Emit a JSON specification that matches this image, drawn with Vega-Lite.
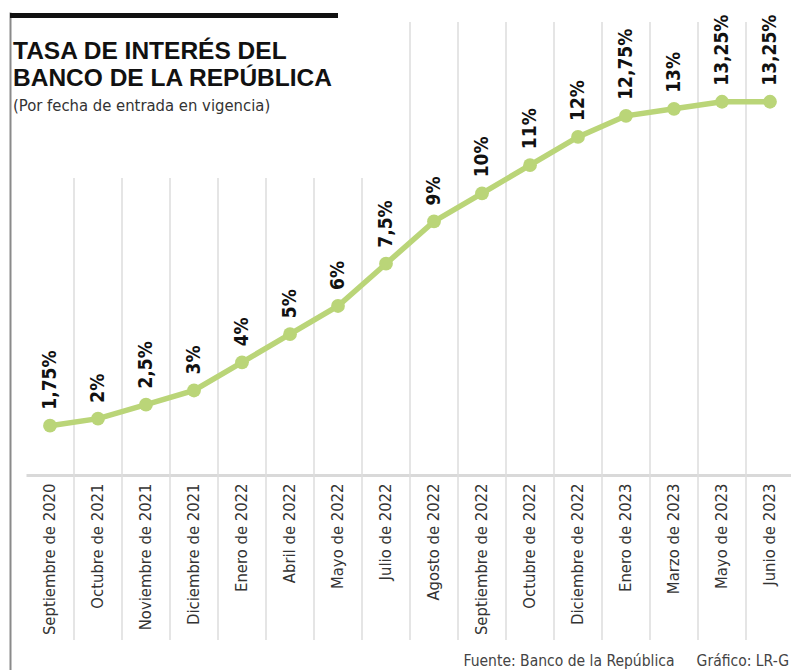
{
  "$schema": "https://vega.github.io/schema/vega-lite/v6.json",
  "width": 768,
  "height": 658,
  "autosize": {"type": "none"},
  "padding": {"left": 26, "top": 12, "right": 0, "bottom": 0},
  "background": "white",
  "config": {"view": {"stroke": null}},
  "title": {
    "text": ["TASA DE INTERÉS DEL", "BANCO DE LA REPÚBLICA"],
    "subtitle": "(Por fecha de entrada en vigencia)",
    "anchor": "start",
    "frame": "group",
    "orient": "top",
    "offset": -103,
    "dx": -13,
    "font": "Liberation Sans",
    "fontSize": 24.5,
    "fontWeight": "bold",
    "lineHeight": 27,
    "color": "#111111",
    "subtitleFont": "DejaVu Sans Condensed",
    "subtitleFontSize": 16.5,
    "subtitleColor": "#333333",
    "subtitlePadding": 6
  },
  "data": {
    "values": [
      {"mes": "Septiembre de 2020", "tasa": 1.75},
      {"mes": "Octubre de 2021", "tasa": 2},
      {"mes": "Noviembre de 2021", "tasa": 2.5},
      {"mes": "Diciembre de 2021", "tasa": 3},
      {"mes": "Enero de 2022", "tasa": 4},
      {"mes": "Abril de 2022", "tasa": 5},
      {"mes": "Mayo de 2022", "tasa": 6},
      {"mes": "Julio de 2022", "tasa": 7.5},
      {"mes": "Agosto de 2022", "tasa": 9},
      {"mes": "Septiembre de 2022", "tasa": 10},
      {"mes": "Octubre de 2022", "tasa": 11},
      {"mes": "Diciembre de 2022", "tasa": 12},
      {"mes": "Enero de 2023", "tasa": 12.75},
      {"mes": "Marzo de 2023", "tasa": 13},
      {"mes": "Mayo de 2023", "tasa": 13.25},
      {"mes": "Junio de 2023", "tasa": 13.25}
    ]
  },
  "transform": [
    {"window": [{"op": "row_number", "as": "i"}]},
    {"calculate": "replace(format(datum.tasa, '.2~f'), '.', ',') + '%'", "as": "etiqueta"}
  ],
  "layer": [
    {
      "transform": [{"filter": "datum.i >= 2 && datum.i <= 8"}],
      "mark": {"type": "rule", "color": "#dcdcdc", "strokeWidth": 1.5},
      "encoding": {
        "x": {"field": "mes", "type": "nominal", "bandPosition": 0},
        "y": {"datum": -5.857, "type": "quantitative"},
        "y2": {"datum": 10.54}
      }
    },
    {
      "transform": [{"filter": "datum.i >= 9"}],
      "mark": {"type": "rule", "color": "#dcdcdc", "strokeWidth": 1.5},
      "encoding": {
        "x": {"field": "mes", "type": "nominal", "bandPosition": 0},
        "y": {"datum": -5.857, "type": "quantitative"},
        "y2": {"datum": 16.08}
      }
    },
    {
      "transform": [{"filter": "datum.i == 1"}],
      "mark": {"type": "rule", "color": "#111111", "strokeWidth": 5},
      "encoding": {
        "x": {"datum": "Septiembre de 2020", "type": "nominal", "bandPosition": -0.333},
        "x2": {"datum": "Mayo de 2022"},
        "y": {"datum": 16.31, "type": "quantitative"}
      }
    },
    {
      "mark": {"type": "line", "color": "#bad578", "strokeWidth": 5.5},
      "encoding": {
        "x": {
          "field": "mes", "type": "nominal", "bandPosition": 0.5,
          "scale": {
            "type": "band", "paddingInner": 0, "paddingOuter": 0,
            "domain": ["Septiembre de 2020", "Octubre de 2021", "Noviembre de 2021", "Diciembre de 2021", "Enero de 2022", "Abril de 2022", "Mayo de 2022", "Julio de 2022", "Agosto de 2022", "Septiembre de 2022", "Octubre de 2022", "Diciembre de 2022", "Enero de 2023", "Marzo de 2023", "Mayo de 2023", "Junio de 2023"]
          },
          "axis": {
            "orient": "bottom",
            "offset": -195,
            "domainColor": "#d9d9d9",
            "domainWidth": 3,
            "ticks": false,
            "grid": false,
            "labelAngle": 270,
            "labelPadding": 8,
            "labelFont": "DejaVu Sans Condensed",
            "labelFontSize": 16.5,
            "labelColor": "#333333",
            "labelOverlap": false,
            "labelBound": false,
            "title": "Fuente: Banco de la República\u00a0\u00a0\u00a0\u00a0\u00a0Gráfico: LR-G",
            "titleFont": "DejaVu Sans Condensed",
            "titleFontSize": 15.5,
            "titleFontWeight": "normal",
            "titleColor": "#444444",
            "titleAnchor": "start",
            "titleAlign": "left",
            "titleX": 437,
            "titleY": 190,
            "titleBaseline": "alphabetic"
          }
        },
        "y": {
          "field": "tasa", "type": "quantitative",
          "scale": {"domain": [-6.922, 16.436], "nice": false, "zero": false},
          "axis": {
            "orient": "left", "offset": 16, "domainColor": "#8a8a8a", "domainWidth": 2,
            "ticks": false, "labels": false, "grid": false, "title": null
          }
        }
      }
    },
    {
      "mark": {"type": "point", "filled": true, "size": 190, "color": "#bad578", "opacity": 1},
      "encoding": {
        "x": {"field": "mes", "type": "nominal", "bandPosition": 0.5},
        "y": {"field": "tasa", "type": "quantitative"}
      }
    },
    {
      "mark": {"type": "text", "angle": 270, "align": "left", "baseline": "middle", "dx": 16, "font": "DejaVu Sans Condensed", "fontWeight": "bold", "fontSize": 19, "color": "#111111"},
      "encoding": {
        "x": {"field": "mes", "type": "nominal", "bandPosition": 0.5},
        "y": {"field": "tasa", "type": "quantitative"},
        "text": {"field": "etiqueta"}
      }
    }
  ]
}
